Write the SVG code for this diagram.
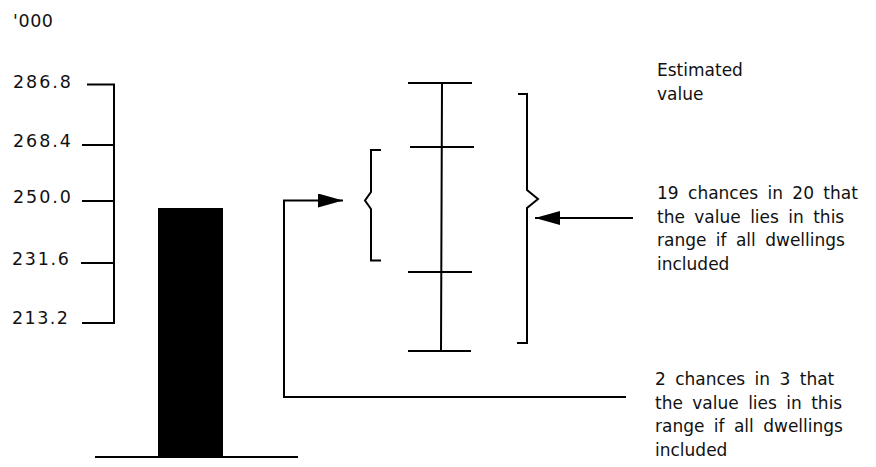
<svg xmlns="http://www.w3.org/2000/svg" width="876" height="467" viewBox="0 0 876 467">
  <style>
    .ln { fill: none; stroke: #000; stroke-width: 2; stroke-linecap: butt; stroke-linejoin: miter; }
    .tx { font-family: "DejaVu Sans", "Liberation Sans", sans-serif; font-size: 17px; word-spacing: 4px; fill: #111; }
    .num { font-family: "DejaVu Sans", "Liberation Sans", sans-serif; font-size: 17.5px; fill: #111; }
  </style>
  <defs>
    <marker id="arrow" viewBox="0 0 25 14" refX="25" refY="7" markerWidth="25" markerHeight="14" markerUnits="userSpaceOnUse" orient="auto">
      <path d="M0,0 L25,7 L0,14 Z" fill="#000"/>
    </marker>
  </defs>

  <!-- value scale -->
  <g id="axis">
    <text class="num" x="13" y="27" textLength="40" lengthAdjust="spacing">'000</text>
    <path class="ln" d="M87,84.5 H114 V323 H82 M82,145 H114 M82,201 H114 M81,263 H114"/>
    <text class="num" x="13" y="88" textLength="58" lengthAdjust="spacing">286.8</text>
    <text class="num" x="13" y="147" textLength="58" lengthAdjust="spacing">268.4</text>
    <text class="num" x="13" y="203" textLength="58" lengthAdjust="spacing">250.0</text>
    <text class="num" x="12" y="265" textLength="57" lengthAdjust="spacing">231.6</text>
    <text class="num" x="12" y="324" textLength="56" lengthAdjust="spacing">213.2</text>
  </g>

  <!-- estimate bar and baseline -->
  <g id="bar">
    <rect x="158" y="208" width="65" height="249" fill="#000"/>
    <line class="ln" x1="95" y1="457" x2="298" y2="457"/>
  </g>

  <!-- error bar with interval caps -->
  <g id="errorbar">
    <path class="ln" d="M442,83 L441,351 M408,83 H472 M410,147 H474 M408,272 H472 M408,351 H471"/>
  </g>

  <!-- two-in-three range brace -->
  <g id="brace-small">
    <path class="ln" d="M381,150 H371 V192 L365,200.5 L371,209 V260.5 H381"/>
  </g>

  <!-- nineteen-in-twenty range brace -->
  <g id="brace-large">
    <path class="ln" d="M518,94 H527 V190 L538,199 L527,208 V343 H517"/>
  </g>

  <!-- label captions -->
  <g id="label-estimate">
    <text class="tx" x="657" y="76">Estimated</text>
    <text class="tx" x="657" y="99.5">value</text>
  </g>
  <g id="label-19in20">
    <text class="tx" x="657" y="199">19 chances in 20 that</text>
    <text class="tx" x="657" y="222.5">the value lies in this</text>
    <text class="tx" x="657" y="246">range if all dwellings</text>
    <text class="tx" x="657" y="269.5">included</text>
  </g>
  <g id="label-2in3">
    <text class="tx" x="655" y="385">2 chances in 3 that</text>
    <text class="tx" x="655" y="408.5">the value lies in this</text>
    <text class="tx" x="655" y="432">range if all dwellings</text>
    <text class="tx" x="655" y="455.5">included</text>
  </g>

  <!-- connectors -->
  <g id="connectors">
    <path class="ln" d="M626,397 H284 V200.5 H343" marker-end="url(#arrow)"/>
    <path class="ln" d="M633,218 H535" marker-end="url(#arrow)"/>
  </g>
</svg>
